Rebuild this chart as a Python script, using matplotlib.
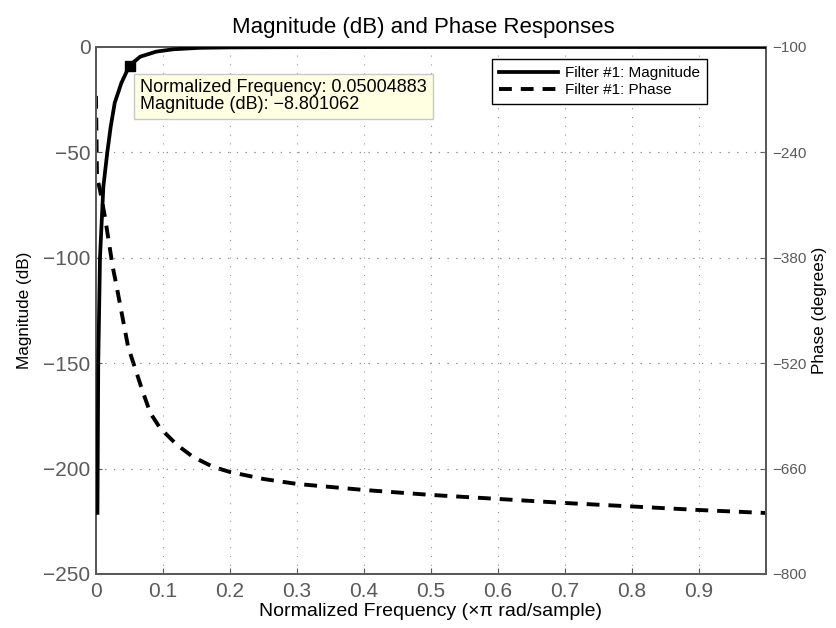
import numpy as np
import matplotlib
matplotlib.use('Agg')
import matplotlib.pyplot as plt

plt.rcParams['font.family'] = ['Liberation Sans', 'DejaVu Sans']

# magnitude response
mag_freq = [0.0022, 0.0034, 0.006, 0.011, 0.0169, 0.022, 0.028, 0.038,
            0.05004883, 0.066, 0.09, 0.115, 0.155, 0.2, 0.3, 0.5, 1.0]
mag_db = [-221, -150, -100, -66.3, -50, -37.8, -26.5, -17.0,
          -8.801062, -4.6, -2.2, -1.1, -0.4, -0.2, -0.08, -0.02, 0.0]

# phase response
ph_freq = [0.0, 0.0015, 0.006, 0.0134, 0.025, 0.031, 0.048, 0.069, 0.081,
           0.0955, 0.121, 0.145, 0.175, 0.2, 0.25, 0.3, 0.4, 0.5, 0.6,
           0.7, 0.8, 0.9, 1.0]
ph_deg = [-165, -272.7, -290, -325.8, -392, -418.8, -498.5, -555.6, -586,
          -606, -628.6, -644.6, -657.8, -664.5, -673.8, -680.4, -688.4, -695.0,
          -700.3, -705.7, -710.3, -715.0, -719.0]

tip_f = 0.05004883
tip_m = -8.801062

x_ticks = [0, 0.1, 0.2, 0.3, 0.4, 0.5, 0.6, 0.7, 0.8, 0.9]
mag_ticks = [0, -50, -100, -150, -200, -250]
ph_ticks = [-100, -240, -380, -520, -660, -800]

gray = '#5a5a5a'
grid_kw = dict(color='#8c8c8c', ls=(0, (0.9, 7)), lw=0.8)

fig = plt.figure(figsize=(8.36, 6.28), dpi=100)
ax = fig.add_axes([0.1148, 0.0860, 0.8015, 0.8392])
ax2 = ax.twinx()

l1, = ax.plot(mag_freq, mag_db, color='black', lw=2.7,
              solid_joinstyle='round', label='Filter #1: Magnitude', zorder=3)
l2, = ax2.plot(ph_freq, ph_deg, color='black', lw=2.8, ls=(0, (3.3, 2.3)),
               dash_joinstyle='round', label='Filter #1: Phase')

ax.set_xlim(0, 1)
ax.set_ylim(-250, 0)
ax2.set_ylim(-800, -100)
ax.set_xticks(x_ticks)
ax.set_xticklabels(['0'] + ['%.1f' % v for v in x_ticks[1:]])
ax.set_yticks(mag_ticks)
ax.set_yticklabels([str(v).replace('-', '\u2212') for v in mag_ticks])
ax2.set_yticks(ph_ticks)
ax2.set_yticklabels([str(v).replace('-', '\u2212') for v in ph_ticks])

ax.grid(True, **grid_kw)
for v in ph_ticks[1:-1]:
    ax2.axhline(v, zorder=0, **grid_kw)

for a in (ax, ax2):
    a.tick_params(direction='in', length=4, colors=gray, labelsize=15,
                  labelcolor=gray, width=0.8)
    for s in a.spines.values():
        s.set_color(gray)
        s.set_linewidth(1.4)
ax.tick_params(axis='x', pad=6)
ax.tick_params(axis='y', pad=4)
ax2.tick_params(axis='y', labelsize=11, pad=4.5)

ax.set_xlabel('Normalized Frequency (\u00d7\u03c0 rad/sample)', fontsize=14, labelpad=1.5)
ax.set_ylabel('Magnitude (dB)', fontsize=12.3, labelpad=8)
ax2.set_ylabel('Phase (degrees)', fontsize=12.3, labelpad=4)
ax.set_title('Magnitude (dB) and Phase Responses', fontsize=16, pad=10, x=0.488)

# data tip
ax.plot([tip_f], [tip_m], marker='s', color='black', ms=6.5, zorder=5)
ax.text(0.0657, -15.4,
        'Normalized Frequency: 0.05004883\nMagnitude (dB): \u22128.801062',
        fontsize=13, va='top', ha='left', linespacing=1.0, zorder=6,
        bbox=dict(boxstyle='square,pad=0.32', fc='#ffffe1', ec='#c8c8c8', lw=1))

ax2.set_zorder(ax.get_zorder() - 1)
ax.patch.set_visible(False)
leg = ax.legend([l1, l2], ['Filter #1: Magnitude', 'Filter #1: Phase'],
                loc='upper right', bbox_to_anchor=(0.912, 0.977), fontsize=11,
                fancybox=False, framealpha=1, edgecolor='black',
                handlelength=3.9, borderpad=0.45, labelspacing=0.2,
                handletextpad=0.45, borderaxespad=0)
leg.get_frame().set_linewidth(1)
leg.set_zorder(10)

fig.savefig('out.png', dpi=100)
